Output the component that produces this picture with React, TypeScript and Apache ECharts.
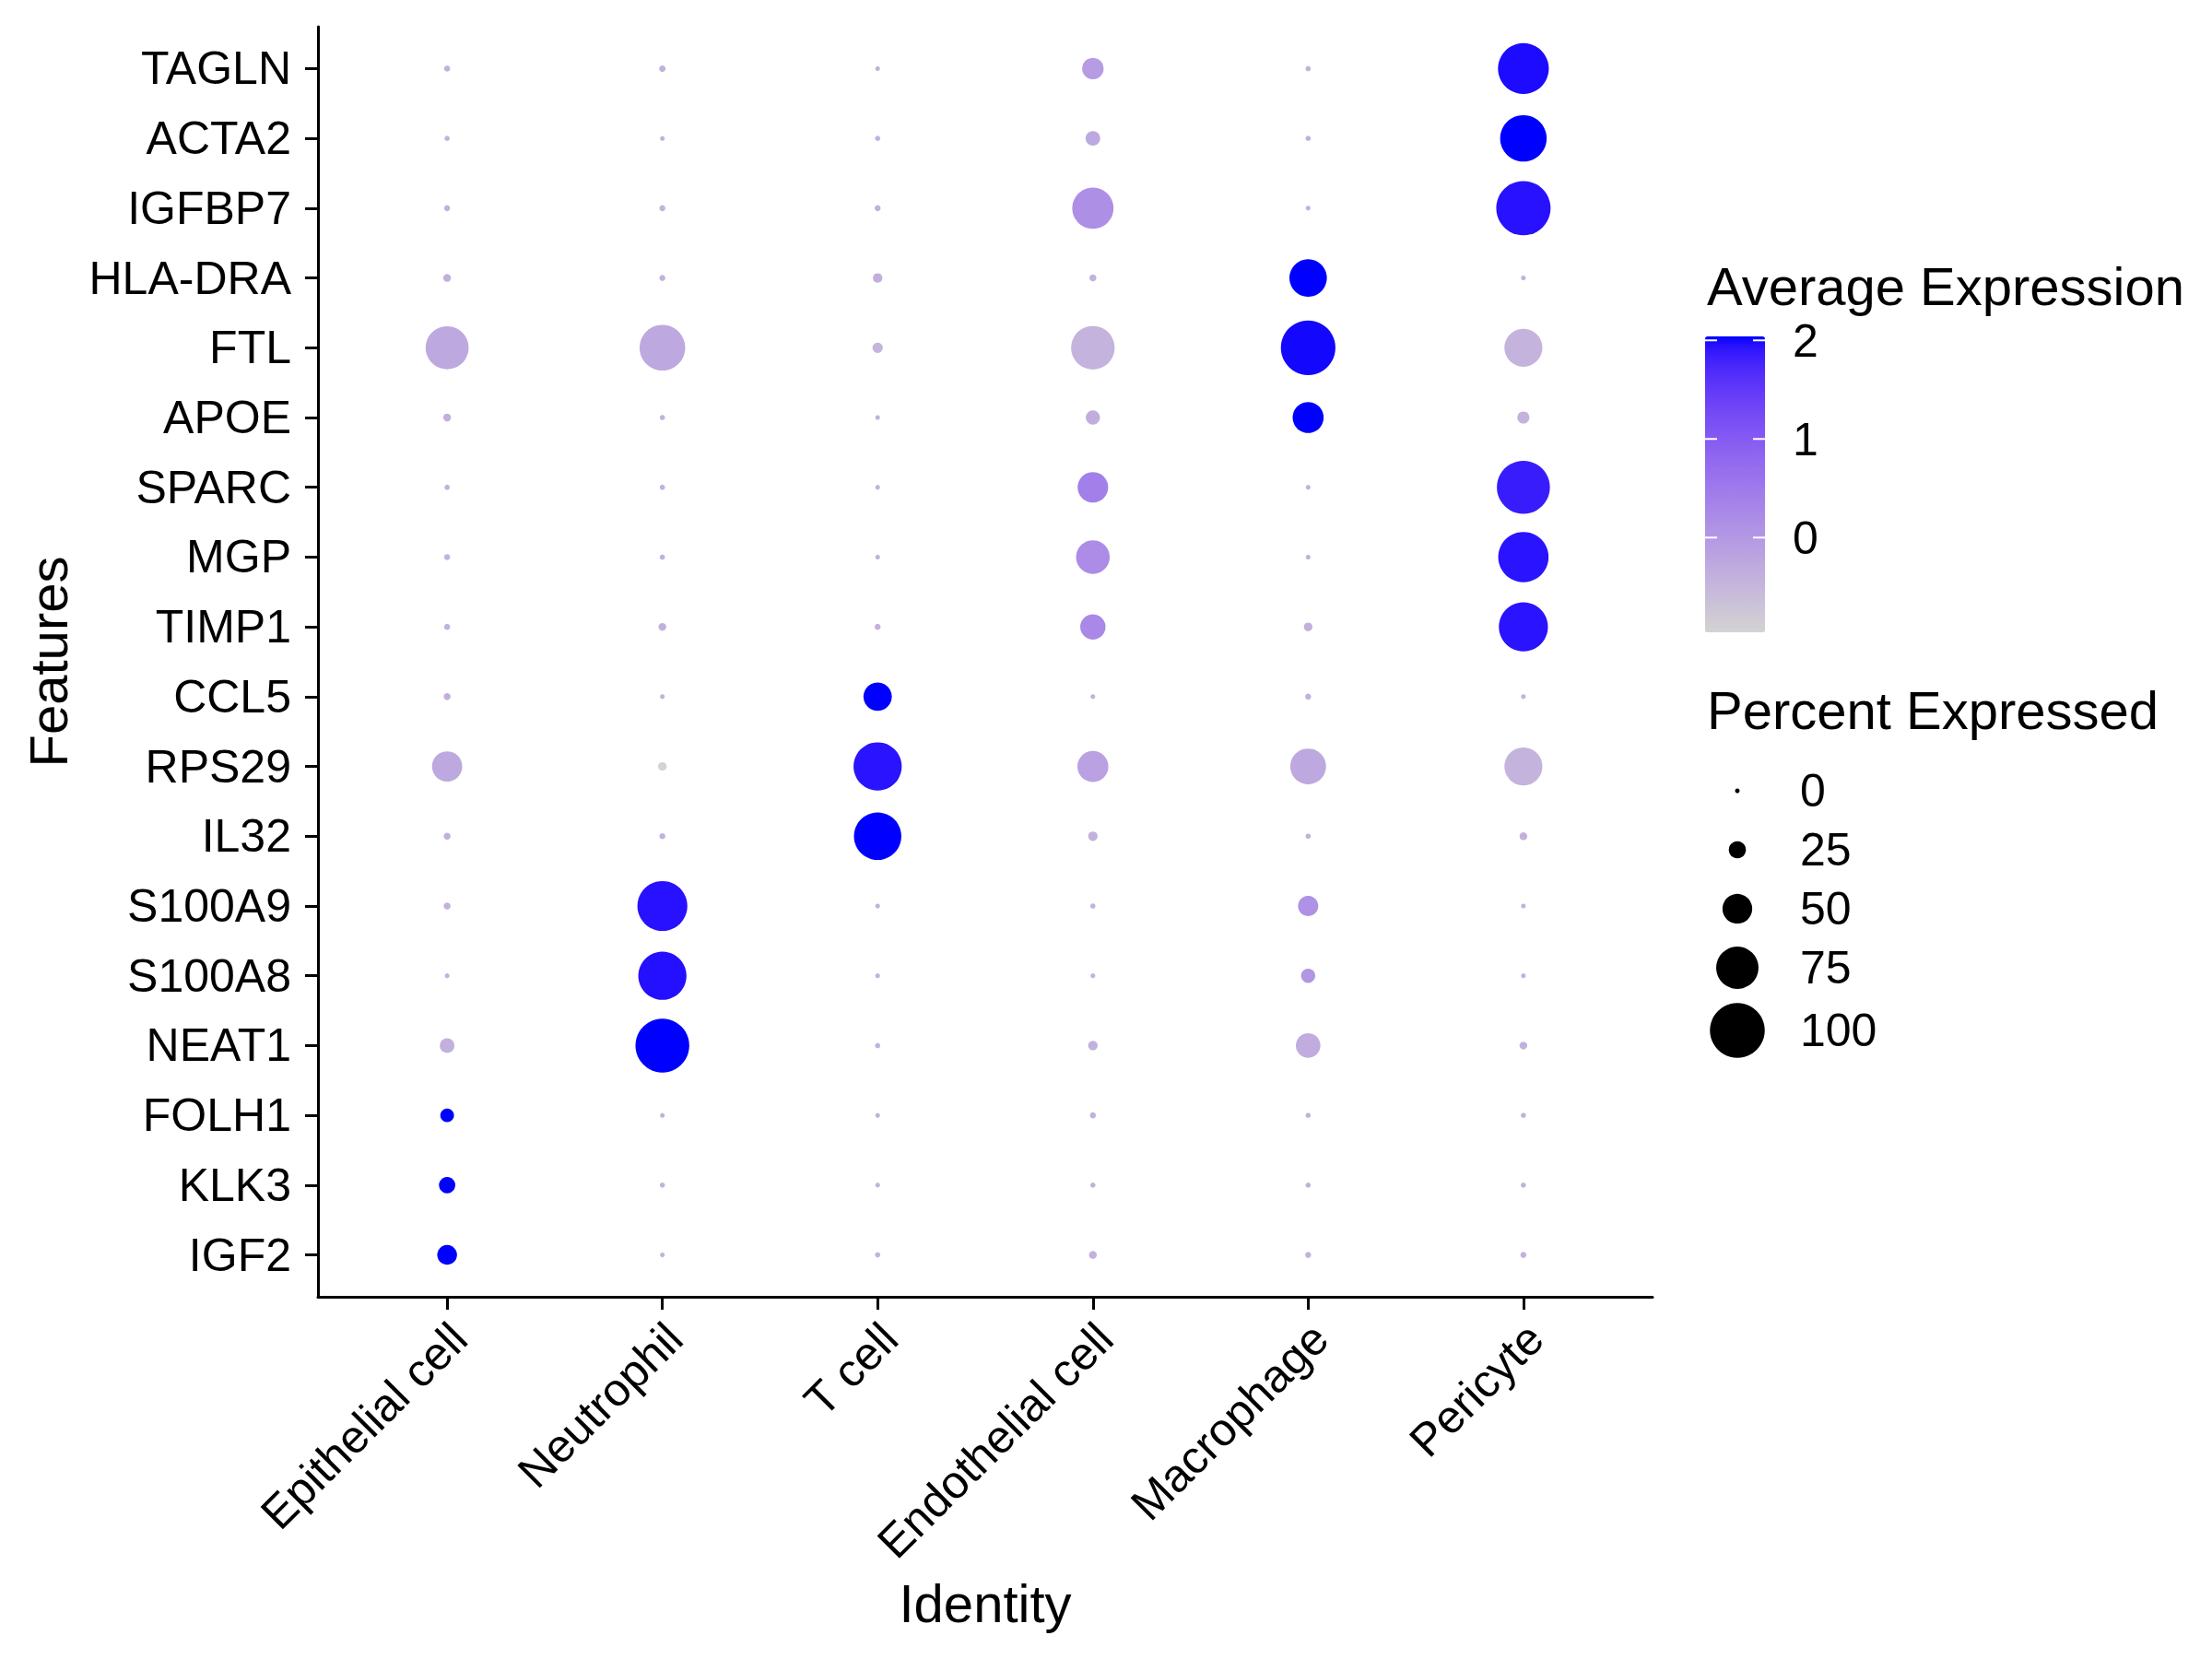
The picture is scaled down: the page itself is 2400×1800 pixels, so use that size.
import React, { useEffect, useRef } from "react";
import * as echarts from "echarts";

// ---------------- data ----------------
const features = [
  "TAGLN", "ACTA2", "IGFBP7", "HLA-DRA", "FTL", "APOE", "SPARC", "MGP", "TIMP1",
  "CCL5", "RPS29", "IL32", "S100A9", "S100A8", "NEAT1", "FOLH1", "KLK3", "IGF2",
];
const cellTypes = ["Epithelial cell", "Neutrophil", "T cell", "Endothelial cell", "Macrophage", "Pericyte"];

// percent expressed (order of features above)
const pctEpithelial = [2.8, 1.2, 2.8, 6.3, 76.5, 6.3, 1.2, 2.8, 2.8, 4.6, 51, 4.6, 4.6, 0.3, 20, 18.2, 23.4, 30.2];
const pctNeutrophil = [3.7, 0.3, 2.8, 2.8, 81.7, 1.2, 1.2, 1.2, 6.3, 0.3, 7.9, 2.8, 90.3, 86.8, 98, 0.3, 1.2, 0.3];
const pctTcell = [0.3, 1.2, 2.8, 9.7, 11.4, 0.3, 0.3, 0.3, 2.8, 47.4, 86.8, 85.2, 0.3, 0.3, 1.2, 0.3, 0.3, 1.2];
const pctEndothelial = [33.7, 20, 73, 4.6, 77.5, 19.1, 51.6, 57.7, 41.3, 0.3, 52.5, 9.7, 1.2, 0.3, 9.7, 2.8, 1.2, 6.3];
const pctMacrophage = [1.2, 1.2, 0.3, 65.4, 99.5, 52.5, 0.3, 0.3, 7.9, 2.8, 62, 1.2, 31.2, 19.1, 39.8, 1.2, 1.2, 2.8];
const pctPericyte = [92, 83.4, 99, 0.3, 66.4, 14.8, 96.4, 91, 88.5, 0.3, 66.4, 6.3, 0.3, 0.3, 6.3, 1.2, 1.2, 2.8];

// scaled average expression
const avgEpithelial = [-0.41, -0.41, -0.41, -0.38, -0.27, -0.38, -0.41, -0.41, -0.41, -0.38, -0.27, -0.4, -0.4, -0.41, -0.4, 2.04, 2.04, 2.04];
const avgNeutrophil = [-0.41, -0.41, -0.41, -0.41, -0.27, -0.41, -0.41, -0.41, -0.4, -0.41, -0.96, -0.41, 1.94, 1.96, 2.04, -0.41, -0.41, -0.41];
const avgTcell = [-0.41, -0.41, -0.41, -0.38, -0.48, -0.41, -0.41, -0.41, -0.41, 2.04, 1.93, 2.04, -0.41, -0.41, -0.41, -0.41, -0.41, -0.41];
const avgEndothelial = [-0.06, -0.27, 0.15, -0.41, -0.44, -0.36, 0.4, 0.2, 0.25, -0.41, -0.15, -0.4, -0.41, -0.41, -0.4, -0.41, -0.41, -0.41];
const avgMacrophage = [-0.41, -0.41, -0.41, 2.04, 2.0, 2.04, -0.41, -0.41, -0.4, -0.41, -0.27, -0.41, 0.12, 0.03, -0.33, -0.41, -0.41, -0.41];
const avgPericyte = [1.98, 2.04, 1.94, -0.41, -0.45, -0.42, 1.85, 1.93, 1.93, -0.41, -0.45, -0.41, -0.41, -0.41, -0.41, -0.41, -0.41, -0.41];

const pctByCell = [pctEpithelial, pctNeutrophil, pctTcell, pctEndothelial, pctMacrophage, pctPericyte];
const avgByCell = [avgEpithelial, avgNeutrophil, avgTcell, avgEndothelial, avgMacrophage, avgPericyte];

const sizeBreaks = [0, 25, 50, 75, 100];
const colorBreaks = [0, 1, 2];
const colorMin = -0.96;
const colorMax = 2.04;
const lowColor = "#D3D3D3";
const highColor = "#0000FF";

// ---------------- colour scale (CIELAB interpolation like ggplot) ----------------
const WX = 0.95047, WY = 1.0, WZ = 1.08883;
function toLin(c: number) {
  c /= 255;
  return c <= 0.04045 ? c / 12.92 : Math.pow((c + 0.055) / 1.055, 2.4);
}
function fromLin(c: number) {
  const v = c <= 0.0031308 ? 12.92 * c : 1.055 * Math.pow(Math.max(c, 0), 1 / 2.4) - 0.055;
  return Math.round(Math.min(1, Math.max(0, v)) * 255);
}
function hexToLab(hex: string) {
  const r = toLin(parseInt(hex.slice(1, 3), 16));
  const g = toLin(parseInt(hex.slice(3, 5), 16));
  const b = toLin(parseInt(hex.slice(5, 7), 16));
  const X = 0.4124 * r + 0.3576 * g + 0.1805 * b;
  const Y = 0.2126 * r + 0.7152 * g + 0.0722 * b;
  const Z = 0.0193 * r + 0.1192 * g + 0.9505 * b;
  const f = (t: number) => (t > 0.008856 ? Math.cbrt(t) : 7.787 * t + 16 / 116);
  const fx = f(X / WX), fy = f(Y / WY), fz = f(Z / WZ);
  return [116 * fy - 16, 500 * (fx - fy), 200 * (fy - fz)];
}
function labToHex(L: number, a: number, b: number) {
  const fy = (L + 16) / 116;
  const fx = fy + a / 500;
  const fz = fy - b / 200;
  const inv = (t: number) => (t * t * t > 0.008856 ? t * t * t : (t - 16 / 116) / 7.787);
  const X = WX * inv(fx), Y = WY * inv(fy), Z = WZ * inv(fz);
  const R = 3.2406 * X - 1.5372 * Y - 0.4986 * Z;
  const G = -0.9689 * X + 1.8758 * Y + 0.0415 * Z;
  const B = 0.0557 * X - 0.204 * Y + 1.057 * Z;
  const h = (v: number) => fromLin(v).toString(16).padStart(2, "0");
  return "#" + h(R) + h(G) + h(B);
}
function labRamp(c1: string, c2: string, n: number) {
  const a = hexToLab(c1), b = hexToLab(c2);
  const out: string[] = [];
  for (let i = 0; i < n; i++) {
    const t = i / (n - 1);
    out.push(labToHex(a[0] + (b[0] - a[0]) * t, a[1] + (b[1] - a[1]) * t, a[2] + (b[2] - a[2]) * t));
  }
  return out;
}

const FONT = "'Liberation Sans', Arial, Helvetica, sans-serif";
const minDot = 5;
const maxDot = 59.5;
const dotSize = (p: number) => minDot + ((maxDot - minDot) * p) / 100;

export default function App() {
  const ref = useRef<HTMLDivElement>(null);

  useEffect(() => {
    document.body.style.margin = "0";
    if (!ref.current) return;
    const chart = echarts.init(ref.current, null, { renderer: "svg" });

    const points: number[][] = [];
    cellTypes.forEach((_, ci) => {
      features.forEach((_, fi) => {
        points.push([ci, fi, pctByCell[ci][fi], avgByCell[ci][fi]]);
      });
    });

    const ramp = labRamp(lowColor, highColor, 41);

    // colour bar layout
    const barLeft = 1850, barTop = 365, barW = 65, barH = 321;
    const barY = (v: number) => barTop + (barH * (colorMax - v)) / (colorMax - colorMin);

    const graphics: any[] = [];
    graphics.push({
      type: "text", x: 1852, y: 310,
      style: { text: "Average Expression", fontSize: 58, fontFamily: FONT, fill: "#000", align: "left", verticalAlign: "middle" },
    });
    colorBreaks.forEach((v) => {
      const y = barY(v);
      graphics.push({ type: "line", shape: { x1: barLeft, y1: y, x2: barLeft + 13, y2: y }, style: { stroke: "#fff", lineWidth: 2 }, z: 100 });
      graphics.push({ type: "line", shape: { x1: barLeft + barW - 13, y1: y, x2: barLeft + barW, y2: y }, style: { stroke: "#fff", lineWidth: 2 }, z: 100 });
      graphics.push({
        type: "text", x: 1945, y: y + 1,
        style: { text: String(v), fontSize: 50, fontFamily: FONT, fill: "#000", align: "left", verticalAlign: "middle" },
      });
    });

    graphics.push({
      type: "text", x: 1852, y: 770,
      style: { text: "Percent Expressed", fontSize: 58, fontFamily: FONT, fill: "#000", align: "left", verticalAlign: "middle" },
    });
    const legendYs = [857, 921, 985, 1049, 1117];
    sizeBreaks.forEach((b, i) => {
      graphics.push({ type: "circle", shape: { cx: 1885, cy: legendYs[i] + 1, r: dotSize(b) / 2 }, style: { fill: "#000" } });
      graphics.push({
        type: "text", x: 1953, y: legendYs[i] + 1,
        style: { text: String(b), fontSize: 50, fontFamily: FONT, fill: "#000", align: "left", verticalAlign: "middle" },
      });
    });

    const xTicks = cellTypes.map((_, i) => i);
    const yTicks = features.map((_, i) => i);

    chart.setOption({
      animation: false,
      backgroundColor: "#fff",
      textStyle: { fontFamily: FONT },
      grid: { left: 345, top: 29, width: 1448, height: 1378 },
      xAxis: {
        type: "value",
        min: -0.6,
        max: 5.6,
        name: "Identity",
        nameLocation: "middle",
        nameGap: 303,
        nameTextStyle: { fontSize: 58, color: "#000", fontFamily: FONT },
        axisLine: { show: true, onZero: false, lineStyle: { color: "#000", width: 3 } },
        axisTick: { show: true, customValues: xTicks, length: 14, lineStyle: { color: "#000", width: 3 } },
        axisLabel: {
          customValues: xTicks.map((v) => v + 0.056),
          formatter: (v: number) => cellTypes[Math.round(v)] ?? "",
          rotate: 45,
          margin: 37,
          fontSize: 50,
          color: "#000",
          fontFamily: FONT,
        },
        splitLine: { show: false },
      },
      yAxis: {
        type: "value",
        min: -0.6,
        max: 17.6,
        inverse: true,
        name: "Features",
        nameLocation: "middle",
        nameRotate: 90,
        nameGap: 264,
        nameTextStyle: { fontSize: 58, color: "#000", fontFamily: FONT },
        axisLine: { show: true, onZero: false, lineStyle: { color: "#000", width: 3 } },
        axisTick: { show: true, customValues: yTicks, length: 14, lineStyle: { color: "#000", width: 3 } },
        axisLabel: {
          customValues: yTicks,
          formatter: (v: number) => features[Math.round(v)] ?? "",
          margin: 29,
          fontSize: 50,
          color: "#000",
          fontFamily: FONT,
        },
        splitLine: { show: false },
      },
      visualMap: [
        {
          type: "continuous",
          show: false,
          seriesIndex: 0,
          dimension: 2,
          min: 0,
          max: 100,
          inRange: { symbolSize: [minDot, maxDot] },
        },
        {
          type: "continuous",
          show: true,
          seriesIndex: 0,
          dimension: 3,
          min: colorMin,
          max: colorMax,
          orient: "vertical",
          left: barLeft,
          top: barTop,
          itemWidth: barW,
          itemHeight: barH,
          padding: 0,
          calculable: false,
          hoverLink: false,
          inRange: { color: ramp },
        },
      ],
      series: [
        {
          type: "scatter",
          data: points,
          symbol: "circle",
          itemStyle: { opacity: 1 },
          emphasis: { disabled: true },
        },
      ],
      graphic: graphics,
    });

    return () => chart.dispose();
  }, []);

  return <div ref={ref} style={{ width: 2400, height: 1800 }} />;
}
